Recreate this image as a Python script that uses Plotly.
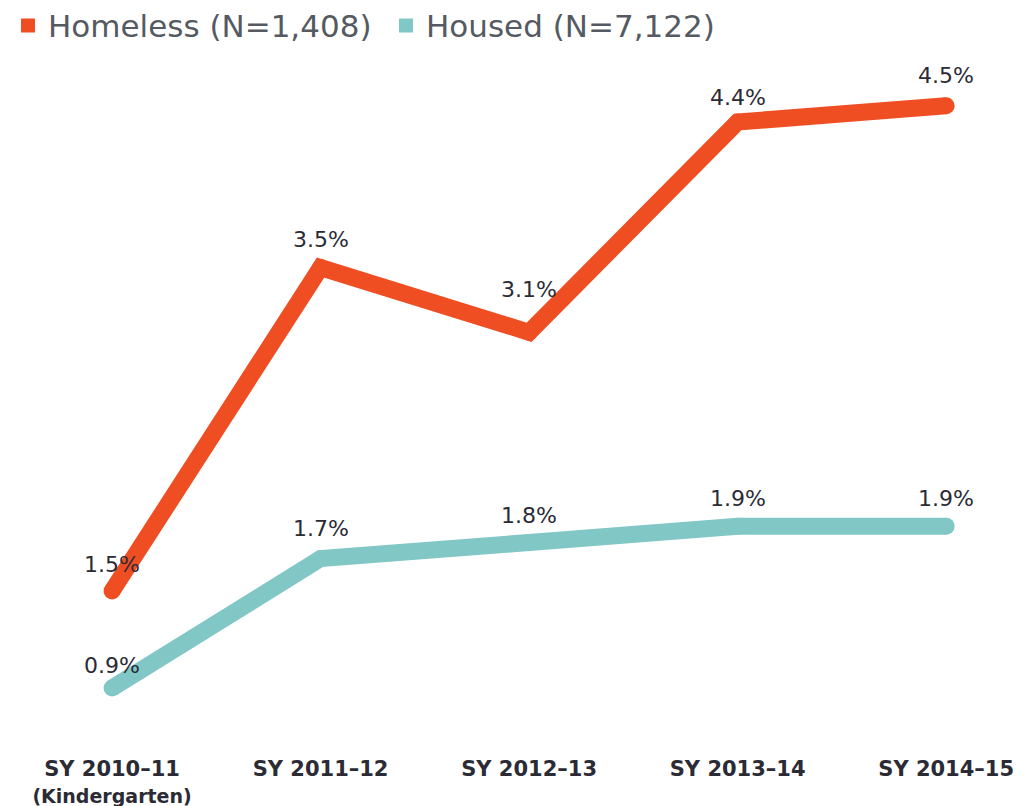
import plotly.graph_objects as go

categories = ["SY 2010–11", "SY 2011–12", "SY 2012–13", "SY 2013–14", "SY 2014–15"]
category_sub = ["(Kindergarten)", "", "", "", ""]
homeless = [1.5, 3.5, 3.1, 4.4, 4.5]
housed = [0.9, 1.7, 1.8, 1.9, 1.9]
series_names = ["Homeless (N=1,408)", "Housed (N=7,122)"]

ORANGE = "#EF4E23"
TEAL = "#80C7C5"
TEXT = "#2b2b35"
FONT = "DejaVu Sans"

homeless_shift = [27, 28, 43, 25, 30]
housed_shift = [23, 30, 27, 28, 28]

x_idx = list(range(len(categories)))

fig = go.Figure()
for vals, col, name in [(homeless, ORANGE, series_names[0]), (housed, TEAL, series_names[1])]:
    fig.add_trace(go.Scatter(
        x=x_idx, y=vals, mode="lines+markers",
        line=dict(color=col, width=17),
        marker=dict(color=col, size=17),
        showlegend=False, hoverinfo="skip",
    ))
    fig.add_trace(go.Scatter(
        x=[None], y=[None], mode="markers", name=name,
        marker=dict(color=col, size=19, symbol="square", line=dict(color=col, width=3)),
        showlegend=True,
    ))

annotations = []
for vals, shifts in [(homeless, homeless_shift), (housed, housed_shift)]:
    for i, (v, s) in enumerate(zip(vals, shifts)):
        annotations.append(dict(
            x=i, y=v, xref="x", yref="y", text=f"{v:.1f}%",
            showarrow=False, yshift=s, yanchor="middle",
            font=dict(family=FONT, size=22, color=TEXT),
        ))

ticktext = []
for c, s in zip(categories, category_sub):
    t = f"<b>{c}</b>"
    if s:
        t += f"<br><b><span style='font-size:19px'>{s}</span></b>"
    ticktext.append(t)

fig.update_layout(
    width=1032, height=806,
    margin=dict(l=0, r=0, t=60, b=76),
    paper_bgcolor="white", plot_bgcolor="white",
    font=dict(family=FONT, color=TEXT),
    legend=dict(
        orientation="h", xref="container", yref="container",
        x=0, y=0.978, xanchor="left", yanchor="middle",
        font=dict(family=FONT, size=31, color="#555a62"),
        itemsizing="constant", bgcolor="rgba(0,0,0,0)",
        entrywidth=333, entrywidthmode="pixels",
    ),
    annotations=annotations,
    xaxis=dict(
        range=[-0.499, 4.45], tickmode="array", tickvals=x_idx, ticktext=ticktext,
        showgrid=False, zeroline=False, showline=False, ticks="",
        tickfont=dict(family=FONT, size=21, color=TEXT),
        ticklabelstandoff=16,
    ),
    yaxis=dict(
        range=[0.591, 4.734], showgrid=False, zeroline=False, showline=False,
        showticklabels=False, ticks="",
    ),
)

fig.write_html("out.html")
